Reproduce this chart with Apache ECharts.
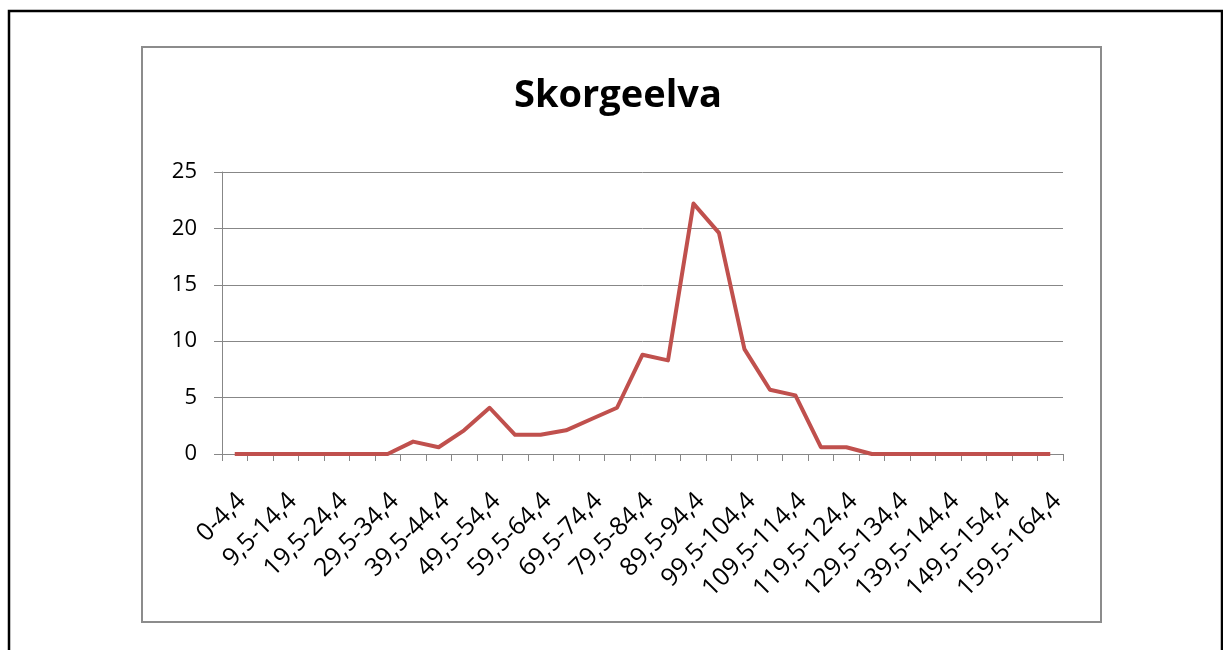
<!DOCTYPE html>
<html>
<head>
<meta charset="utf-8">
<script src="https://cdn.jsdelivr.net/npm/echarts@6/dist/echarts.min.js"></script>
<style>
  html, body { margin: 0; padding: 0; background: #fff; }
  #chart { width: 1223px; height: 650px; }
</style>
</head>
<body>
<div id="chart"></div>
<script>
const titleText = 'Skorgeelva';
const categories = [
  '0-4,4', '4,5-9,4', '9,5-14,4', '14,5-19,4', '19,5-24,4', '24,5-29,4',
  '29,5-34,4', '34,5-39,4', '39,5-44,4', '44,5-49,4', '49,5-54,4', '54,5-59,4',
  '59,5-64,4', '64,5-69,4', '69,5-74,4', '74,5-79,4', '79,5-84,4', '84,5-89,4',
  '89,5-94,4', '94,5-99,4', '99,5-104,4', '104,5-109,4', '109,5-114,4', '114,5-119,4',
  '119,5-124,4', '124,5-129,4', '129,5-134,4', '134,5-139,4', '139,5-144,4', '144,5-149,4',
  '149,5-154,4', '154,5-159,4', '159,5-164,4'
];
const values = [
  0, 0, 0, 0, 0, 0,
  0, 1.1, 0.6, 2.1, 4.1, 1.7,
  1.7, 2.1, 3.1, 4.1, 8.8, 8.3,
  22.2, 19.6, 9.3, 5.7, 5.2, 0.6,
  0.6, 0, 0, 0, 0, 0,
  0, 0, 0
];
const yTicks = [0, 5, 10, 15, 20, 25];

const chart = echarts.init(document.getElementById('chart'), null, { renderer: 'canvas' });
const gray = '#878787';
chart.setOption({
  animation: false,
  backgroundColor: '#ffffff',
  graphic: [
    { type: 'rect', shape: { x: 9, y: 11, width: 1213, height: 700 },
      style: { fill: 'none', stroke: '#000', lineWidth: 2.5 }, silent: true },
    { type: 'rect', shape: { x: 142, y: 47, width: 959, height: 575 },
      style: { fill: 'none', stroke: '#8c8c8c', lineWidth: 2 }, silent: true },
    { type: 'text', x: 618, y: 96, silent: true,
      style: { text: titleText, align: 'center', verticalAlign: 'middle',
        fontFamily: 'Open Sans', fontWeight: 'bold', fontSize: 38, fill: '#000' } }
  ],
  grid: { left: 222, right: 160, top: 172, bottom: 196, containLabel: false },
  xAxis: {
    type: 'category',
    data: categories,
    boundaryGap: true,
    axisLine: { show: true, lineStyle: { color: gray, width: 1 } },
    axisTick: { show: true, length: 7, interval: 0, lineStyle: { color: gray } },
    axisLabel: {
      interval: 1,
      rotate: 45,
      margin: 36,
      verticalAlign: 'top',
      lineHeight: 20,
      fontFamily: 'Open Sans',
      fontSize: 25,
      color: '#000'
    },
    splitLine: { show: false }
  },
  yAxis: {
    type: 'value',
    min: yTicks[0],
    max: yTicks[yTicks.length - 1],
    interval: 5,
    axisLine: { show: true, lineStyle: { color: gray, width: 1 } },
    axisTick: { show: true, length: 8, lineStyle: { color: gray } },
    axisLabel: { margin: 25, fontFamily: 'Open Sans', fontSize: 22, color: '#000' },
    splitLine: { show: true, lineStyle: { color: gray, width: 1 } }
  },
  series: [{
    type: 'line',
    data: values,
    symbol: 'none',
    lineStyle: { color: '#C0504D', width: 4, join: 'round' },
    itemStyle: { color: '#C0504D' }
  }]
});
</script>
</body>
</html>
